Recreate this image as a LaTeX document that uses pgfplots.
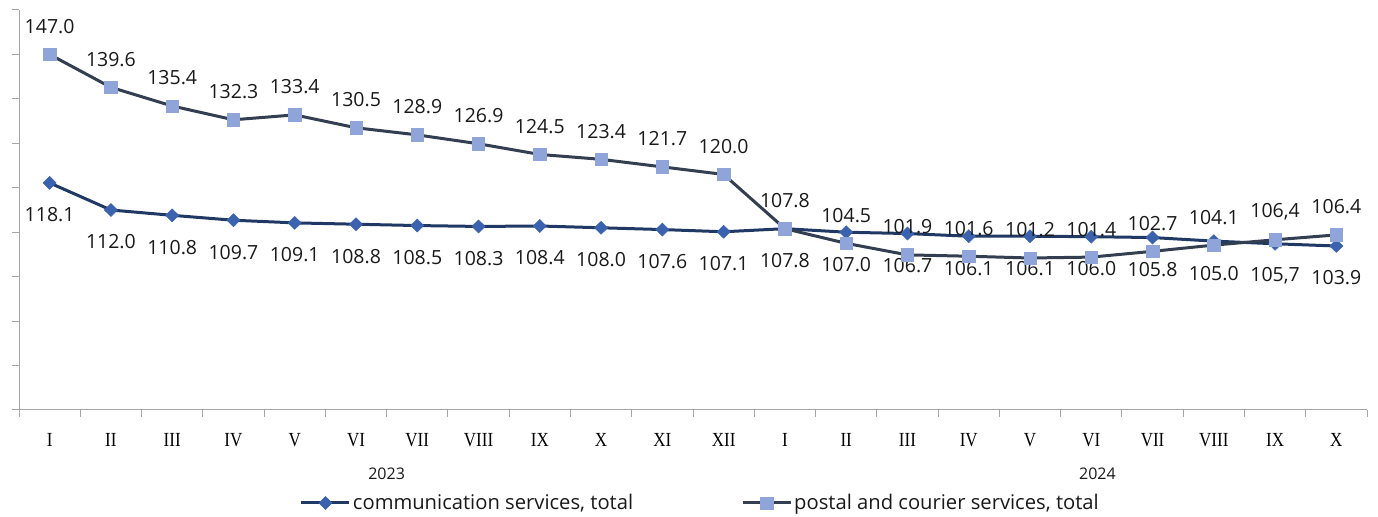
\documentclass[border=0pt]{standalone}
\usepackage{pgfplots}
\pgfplotsset{compat=1.18}
\usepackage{pgfplotstable}
\usepackage{fontspec}
\setmainfont{Open Sans}
\newfontfamily\romfont{Liberation Serif}[FakeStretch=0.85]
\definecolor{commline}{HTML}{203864}
\definecolor{commmark}{HTML}{3A62AF}
\definecolor{postline}{HTML}{333F50}
\definecolor{postmark}{HTML}{8FA4D8}
\definecolor{axgray}{HTML}{A6A6A6}

\pgfplotstableread{
x y lab
0 118.1 118.1
1 112.0 112.0
2 110.8 110.8
3 109.7 109.7
4 109.1 109.1
5 108.8 108.8
6 108.5 108.5
7 108.3 108.3
8 108.4 108.4
9 108.0 108.0
10 107.6 107.6
11 107.1 107.1
12 107.8 107.8
13 107.0 107.0
14 106.7 106.7
15 106.1 106.1
16 106.1 106.1
17 106.0 106.0
18 105.8 105.8
19 105.0 105.0
20 104.4 105,7
21 103.9 103.9
}\comm

\pgfplotstableread{
x y lab
0 147.0 147.0
1 139.6 139.6
2 135.4 135.4
3 132.3 132.3
4 133.4 133.4
5 130.5 130.5
6 128.9 128.9
7 126.9 126.9
8 124.5 124.5
9 123.4 123.4
10 121.7 121.7
11 120.0 120.0
12 107.8 107.8
13 104.5 104.5
14 101.9 101.9
15 101.6 101.6
16 101.2 101.2
17 101.4 101.4
18 102.7 102.7
19 104.1 104.1
20 105.3 106,4
21 106.4 106.4
}\post

\begin{document}
\begin{tikzpicture}
\useasboundingbox (0,0) rectangle (1378bp,517bp);
\begin{axis}[
  at={(19bp,107bp)}, anchor=south west,
  scale only axis, width=1348bp, height=400bp,
  xmin=-0.5, xmax=21.5, ymin=67, ymax=157,
  axis x line*=bottom, axis y line*=left,
  axis line style={draw=axgray, line width=1bp, -},
  tick align=outside,
  major tick length=7bp,
  tick style={draw=axgray, line width=1bp},
  xtick={-0.5,0.5,...,21.5}, xticklabels={},
  ytick={67,77,...,157}, yticklabels={},
  extra x ticks={0,1,...,21},
  extra x tick labels={I,II,III,IV,V,VI,VII,VIII,IX,X,XI,XII,I,II,III,IV,V,VI,VII,VIII,IX,X},
  extra x tick style={major tick length=0pt, tick label style={font=\romfont\fontsize{20bp}{24bp}\selectfont, text=black, yshift=-20bp}},
  clip=false,
  point meta=explicit symbolic,
  nodes near coords,
  nodes near coords style={font=\fontsize{19.5bp}{23bp}\selectfont, text=black!90, anchor=center},
  legend style={draw=none, fill=none, at={(0.5055,-0.2325)}, anchor=center,
     font=\fontsize{20.2bp}{24bp}\selectfont, text=black!90,
     /tikz/every even column/.append style={column sep=106bp}},
  legend columns=2,
  legend image code/.code={\draw[mark repeat=2,mark phase=2,#1] plot coordinates {(0bp,0bp) (24bp,0bp) (48bp,0bp)};},
]
\addplot[color=commline, line width=3bp, mark=diamond*, mark size=6.5bp,
  mark options={fill=commmark, draw=commmark, line width=0.5bp, xscale=1.35},
  every node near coord/.append style={yshift=-32bp}]
  table[x=x, y=y, meta=lab] {\comm};
\addlegendentry{communication services, total}
\addplot[color=postline, line width=3bp, mark=square*, mark size=6.2bp,
  mark options={fill=postmark, draw=postmark, line width=0.5bp, rounded corners=1.5bp},
  every node near coord/.append style={yshift=28bp}]
  table[x=x, y=y, meta=lab] {\post};
\addlegendentry{postal and courier services, total}
\node[font=\fontsize{16bp}{19bp}\selectfont, text=black!90] at (axis cs:5.5,67) [yshift=-64bp] {2023};
\node[font=\fontsize{16bp}{19bp}\selectfont, text=black!90] at (axis cs:17.1,67) [yshift=-64bp] {2024};
\end{axis}
\end{tikzpicture}
\end{document}
